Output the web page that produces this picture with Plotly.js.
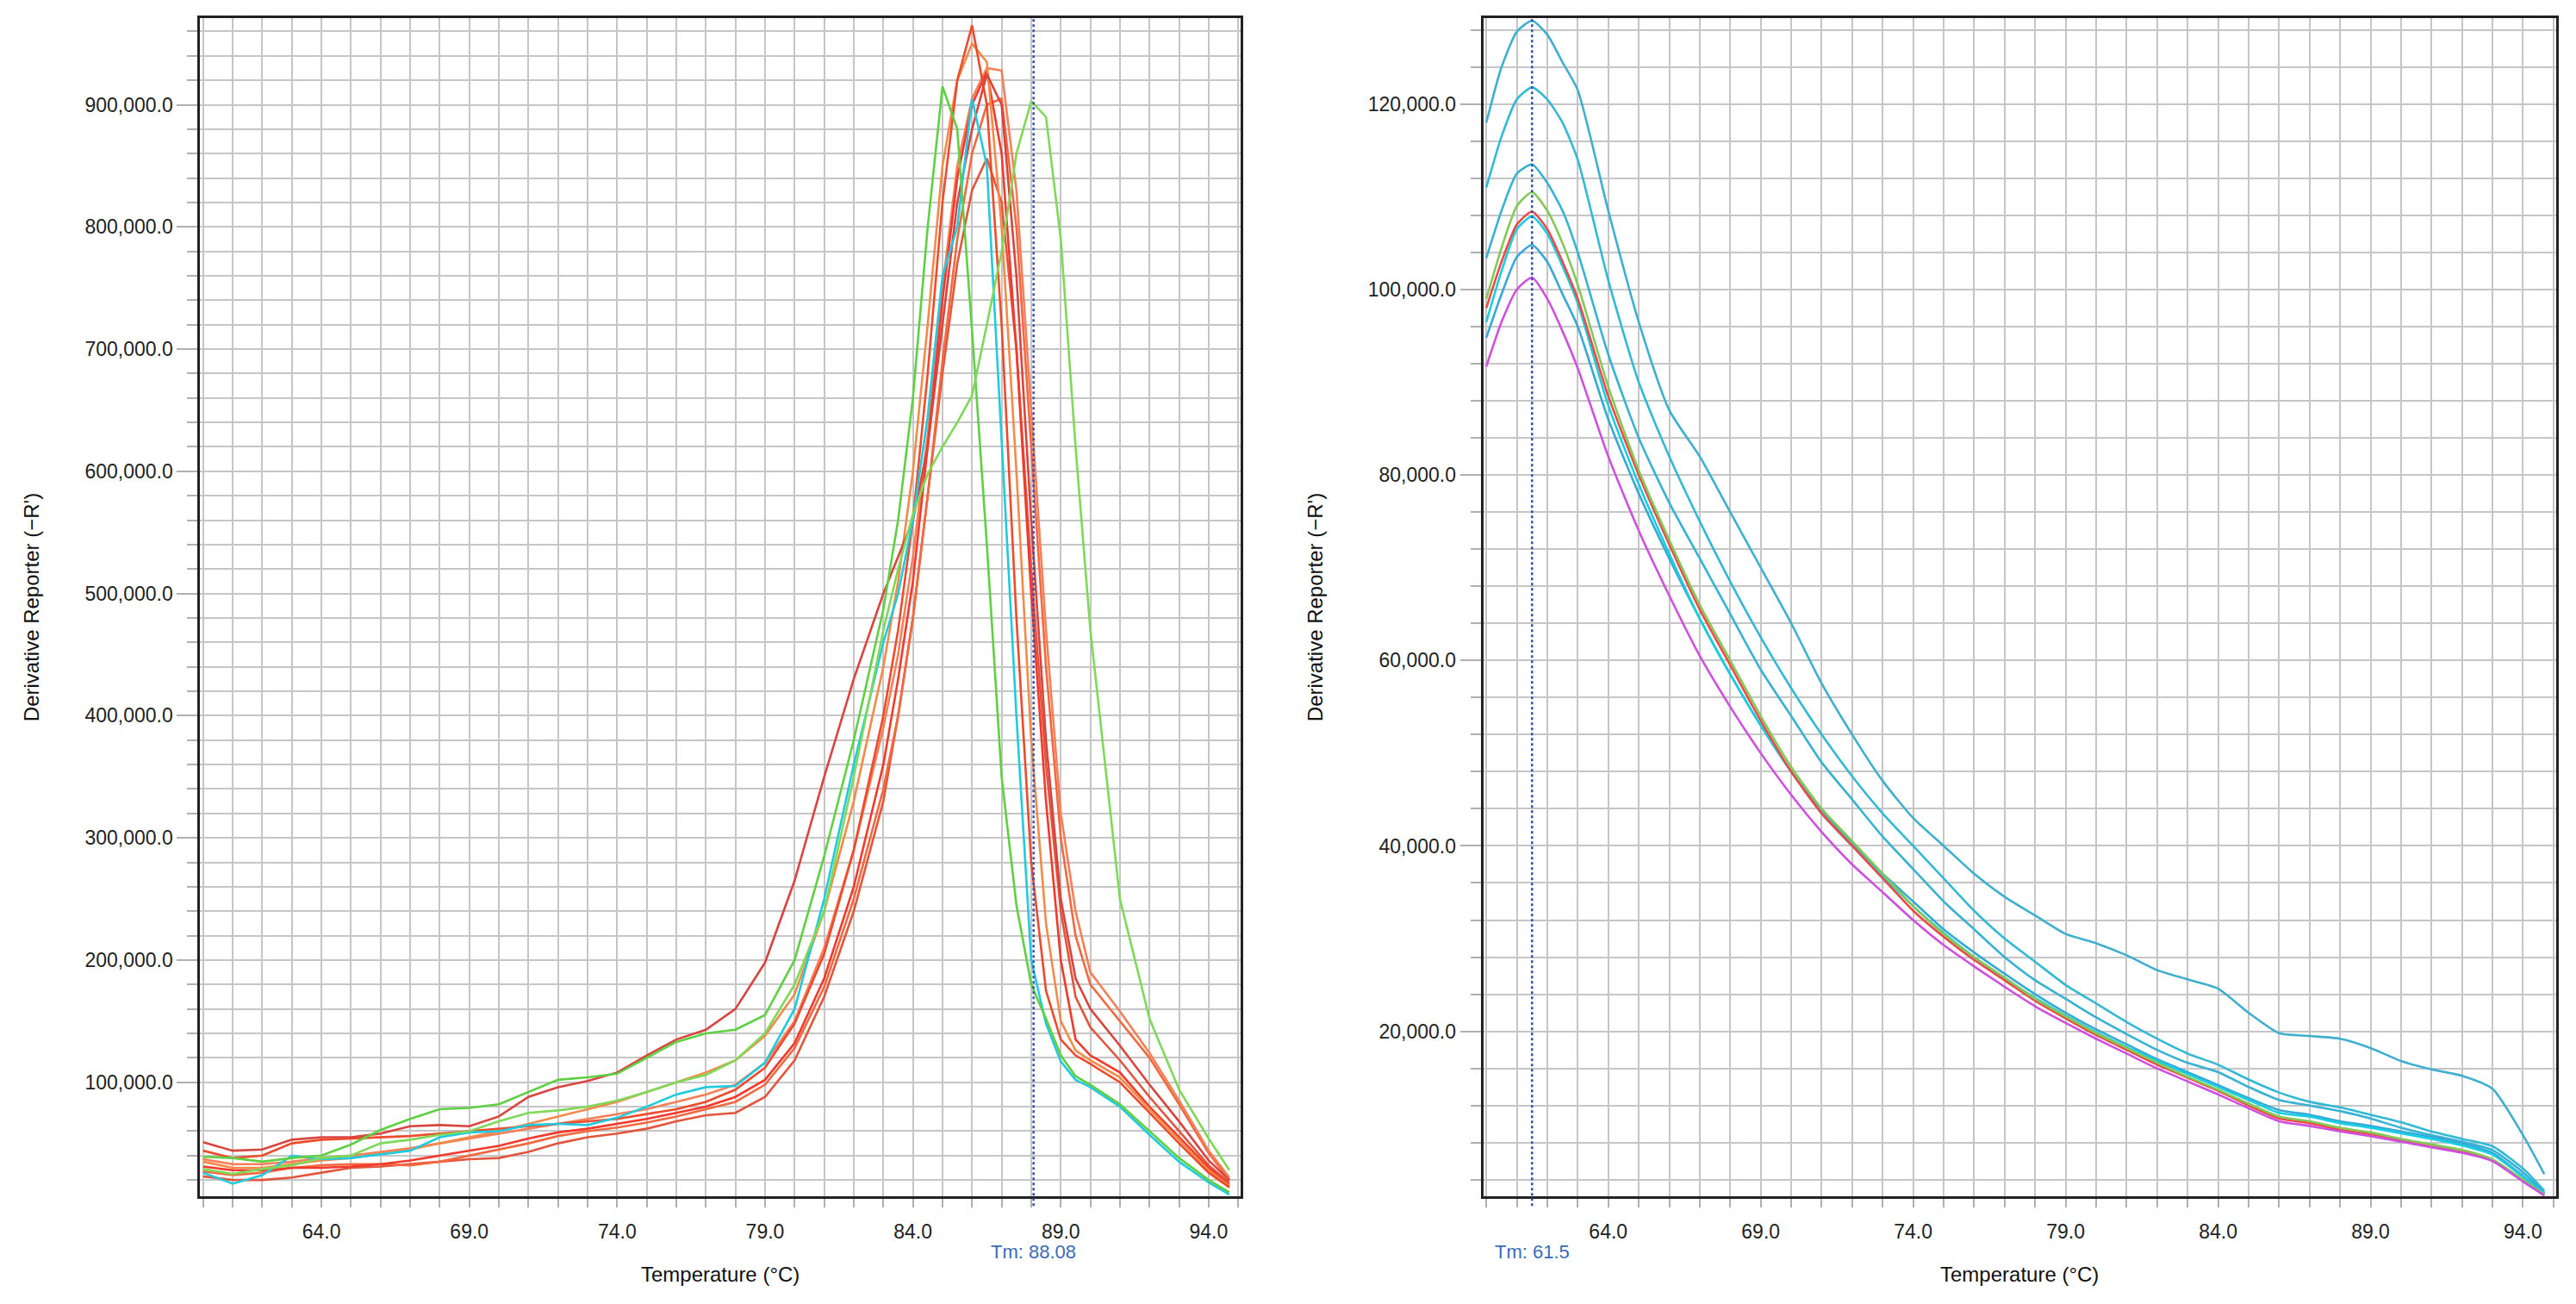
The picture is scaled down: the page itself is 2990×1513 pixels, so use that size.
<!DOCTYPE html>
<html>
<head>
<meta charset="utf-8">
<script src="https://cdn.plot.ly/plotly-3.0.1.min.js"></script>
<style>
  body { margin: 0; background: #fff; }
  #chart { width: 2990px; height: 1513px; }
</style>
</head>
<body>
<div id="chart"></div>
<script>
// values in thousands of -R' units
const kilo = 1000;

// left panel: temperature points (°C)
const tempLeft = [60, 61, 62, 63, 64, 65, 66, 67, 68, 69, 70, 71, 72, 73, 74, 75, 76, 77, 78, 79, 80, 81, 82, 83, 83.5, 84, 84.5, 85, 85.5, 86, 86.5, 87, 87.5, 88, 88.5, 89, 89.5, 90, 91, 92, 93, 94, 94.7];

const leftRed1 = [44, 38, 40, 50, 53, 54, 55, 56, 58, 60, 62, 64, 66, 68, 70, 74, 78, 84, 94, 112, 148, 205, 290, 400, 470, 560, 680, 820, 920, 965, 900, 720, 480, 280, 175, 135, 122, 115, 100, 75, 50, 26, 14];
const leftOrange1 = [35, 30, 30, 33, 36, 38, 42, 45, 50, 55, 60, 66, 72, 78, 84, 92, 100, 108, 118, 138, 172, 240, 330, 440, 510, 600, 720, 850, 920, 950, 935, 800, 600, 380, 230, 150, 126, 118, 104, 78, 53, 28, 15];
const leftRed2 = [51, 44, 45, 53, 55, 55, 58, 64, 65, 64, 72, 88, 96, 101, 108, 122, 135, 143, 160, 198, 265, 350, 430, 500, 530, 560, 620, 720, 820, 880, 925, 900, 760, 560, 380, 250, 185, 160, 130, 98, 68, 36, 20];
const leftRed3 = [31, 28, 28, 30, 30, 31, 33, 36, 40, 44, 48, 54, 59, 62, 66, 70, 75, 80, 88, 102, 132, 185, 260, 360, 430, 510, 620, 740, 840, 900, 927, 860, 700, 500, 330, 200, 135, 122, 108, 80, 55, 30, 16];
const leftRed4 = [23, 20, 20, 22, 26, 30, 31, 33, 35, 37, 38, 43, 50, 55, 58, 62, 68, 73, 75, 88, 118, 170, 240, 330, 400, 480, 580, 680, 770, 830, 856, 820, 700, 520, 360, 240, 170, 145, 118, 88, 60, 32, 18];
const leftRed5 = [27, 24, 26, 30, 32, 33, 33, 32, 35, 40, 45, 50, 56, 60, 63, 67, 72, 78, 84, 98, 128, 178, 250, 340, 400, 480, 580, 690, 790, 860, 900, 905, 800, 620, 440, 300, 220, 180, 150, 120, 82, 42, 20];
const leftOrange2 = [37, 33, 33, 35, 38, 40, 43, 46, 50, 54, 58, 62, 66, 70, 74, 78, 84, 90, 98, 116, 150, 210, 290, 390, 450, 530, 630, 750, 850, 905, 930, 928, 830, 650, 470, 320, 240, 190, 158, 124, 85, 44, 22];
const leftCyan = [26, 17, 24, 40, 37, 38, 41, 44, 55, 59, 60, 65, 66, 65, 71, 80, 90, 96, 97, 116, 160, 250, 360, 460, 500, 560, 645, 760, 800, 905, 850, 620, 400, 200, 148, 117, 102, 96, 80, 57, 35, 18, 8];
const leftGreen1 = [39, 38, 35, 38, 40, 49, 61, 70, 78, 79, 82, 92, 102, 104, 107, 120, 133, 140, 143, 155, 200, 285, 380, 487, 560, 660, 800, 915, 880, 715, 540, 350, 245, 180, 152, 122, 105, 98, 82, 60, 38, 20, 10];
const leftGreen2 = [29, 25, 29, 32, 38, 40, 50, 53, 57, 60, 68, 75, 77, 80, 85, 92, 100, 106, 118, 140, 180, 240, 350, 470, 520, 565, 598, 620, 640, 662, 720, 780, 860, 903, 890, 790, 620, 470, 250, 152, 94, 54, 28];

// right panel: temperature points (°C)
const tempRight = [60, 60.5, 61, 61.5, 62, 62.5, 63, 64, 65, 66, 67, 68, 69, 70, 71, 72, 73, 74, 75, 76, 77, 78, 79, 80, 81, 82, 83, 84, 85, 86, 87, 88, 89, 90, 91, 92, 93, 94, 94.7];

const rightTeal1 = [118, 124, 127.8, 129, 127.5, 124.5, 121.5, 108.5, 96.5, 87, 82, 76, 70, 64, 57.5, 52, 47, 43, 40, 37, 34.5, 32.5, 30.5, 29.5, 28.2, 26.6, 25.6, 24.6, 22, 19.8, 19.5, 19.2, 18.2, 16.8, 15.9, 15.2, 13.8, 8.8, 4.6];
const rightTeal2 = [111, 116.5, 120.5, 121.8, 120.5, 118, 114, 101, 90, 82, 75, 68.5, 62.5, 57, 52, 47.5, 43.5, 40, 36.5, 33, 30, 27.5, 25, 23, 21, 19.2, 17.6, 16.4, 14.8, 13.4, 12.4, 11.8, 11, 10.2, 9.2, 8.4, 7.6, 5.2, 2.8];
const rightTeal3 = [103.4, 108.5, 112.5, 113.5, 111.5, 108.5, 104, 93, 84, 77, 71, 65, 59, 54, 49, 45, 41, 37.5, 34, 31, 28, 25.5, 23.5, 21.5, 19.7, 18, 16.6, 15.6, 14, 12.6, 12, 11.4, 10.6, 9.6, 8.8, 8.1, 7.2, 4.8, 2.6];
const rightBlue = [94.8, 99.5, 103.5, 104.8, 103, 99.5, 96, 86, 78, 71, 64.5, 58.5, 53, 48, 43.8, 40.2, 37, 34, 31, 28.5, 26.2, 24, 22, 20.2, 18.6, 17, 15.6, 14.2, 12.8, 11.5, 11, 10.3, 9.8, 9.2, 8.6, 7.9, 6.9, 4.4, 2.5];
const rightCyan = [96.5, 102, 106.5, 107.9, 106, 102.5, 98.5, 87.5, 79, 71.5, 64.5, 58.5, 53, 48, 43.5, 40, 36.7, 33.5, 30.6, 28, 25.7, 23.6, 21.7, 19.9, 18.3, 16.8, 15.4, 14, 12.6, 11.2, 10.8, 10.1, 9.6, 9, 8.4, 7.7, 6.7, 4.3, 2.5];
const rightRed = [98, 103, 107, 108.4, 106.5, 103, 99, 88.5, 80, 72.5, 65.5, 59.5, 53.5, 48, 43.5, 40, 36.5, 33, 30.2, 27.7, 25.5, 23.3, 21.4, 19.6, 18, 16.4, 15, 13.6, 12, 10.6, 10.1, 9.4, 8.9, 8.3, 7.7, 7.1, 6.1, 3.9, 2.3];
const rightGreen = [99, 104.5, 109, 110.5, 108.5, 105, 100.5, 89.5, 80.5, 73, 66, 60, 54, 48.5, 44, 40.5, 37, 33.5, 30.5, 28, 25.8, 23.5, 21.6, 19.8, 18.2, 16.6, 15.1, 13.7, 12.2, 10.8, 10.3, 9.6, 9.1, 8.4, 7.8, 7.2, 6.2, 4, 2.4];
const rightMagenta = [91.7, 96.5, 100, 101.3, 99, 95.5, 91.5, 82, 74, 67, 60.5, 55, 50, 45.5, 41.5, 38, 35, 32, 29.3, 27, 24.8, 22.7, 20.9, 19.2, 17.6, 16, 14.6, 13.2, 11.7, 10.3, 9.8, 9.2, 8.7, 8.1, 7.5, 6.9, 6, 3.8, 2.3];

const tmLeft = 88.08;
const tmRight = 61.5;

function curve(temps, vals, color, xa, ya, shape) {
  return {
    type: "scatter",
    mode: "lines",
    x: temps,
    y: vals.map((v) => v * kilo),
    xaxis: xa,
    yaxis: ya,
    line: { color: color, width: 2.6, shape: shape, smoothing: 0.6 },
    hoverinfo: "skip",
  };
}

let data = [
  curve(tempLeft, leftRed4, "#e3553d", "x", "y", "linear"),
  curve(tempLeft, leftRed5, "#f2683f", "x", "y", "linear"),
  curve(tempLeft, leftOrange2, "#f47f58", "x", "y", "linear"),
  curve(tempLeft, leftRed3, "#f2392c", "x", "y", "linear"),
  curve(tempLeft, leftOrange1, "#f58a48", "x", "y", "linear"),
  curve(tempLeft, leftRed1, "#ee4a2c", "x", "y", "linear"),
  curve(tempLeft, leftRed2, "#d9443f", "x", "y", "linear"),
  curve(tempLeft, leftCyan, "#22cae0", "x", "y", "linear"),
  curve(tempLeft, leftGreen1, "#5ed042", "x", "y", "linear"),
  curve(tempLeft, leftGreen2, "#7fd958", "x", "y", "linear"),

  curve(tempRight, rightTeal1, "#3eafcf", "x2", "y2", "spline"),
  curve(tempRight, rightTeal2, "#33b9d6", "x2", "y2", "spline"),
  curve(tempRight, rightTeal3, "#38b2d2", "x2", "y2", "spline"),
  curve(tempRight, rightBlue, "#36a9d8", "x2", "y2", "spline"),
  curve(tempRight, rightCyan, "#16d0e2", "x2", "y2", "spline"),
  curve(tempRight, rightRed, "#ef4848", "x2", "y2", "spline"),
  curve(tempRight, rightGreen, "#82c955", "x2", "y2", "spline"),
  curve(tempRight, rightMagenta, "#cf4fe0", "x2", "y2", "spline"),
];

const gridColor = "#c6c6c6";
const fontFamily = "Liberation Sans, Arial, sans-serif";

function tempAxis(domain, anchor) {
  return {
    domain: domain,
    anchor: anchor,
    range: [59.9, 95.08],
    tick0: 64,
    dtick: 5,
    tickformat: ".1f",
    ticks: "outside",
    ticklen: 10,
    tickwidth: 2,
    tickcolor: "#b0b0b0",
    ticklabelstandoff: 8,
    showgrid: true,
    gridcolor: gridColor,
    gridwidth: 2,
    zeroline: false,
    showline: true,
    linecolor: "#222",
    linewidth: 3,
    mirror: true,
    tickfont: { size: 23, color: "#222" },
    minor: {
      dtick: 1,
      ticks: "outside",
      ticklen: 10,
      tickwidth: 2,
      tickcolor: "#b0b0b0",
      showgrid: true,
      gridcolor: gridColor,
      gridwidth: 2,
    },
    title: { text: "Temperature (°C)", font: { size: 24, color: "#111" }, standoff: 30 },
  };
}

function valueAxis(domain, anchor, range, dtick, minorStep) {
  return {
    domain: domain,
    anchor: anchor,
    range: range,
    tick0: 0,
    dtick: dtick,
    tickformat: ",.1f",
    ticks: "outside",
    ticklen: 24,
    tickwidth: 2,
    tickcolor: "#b0b0b0",
    showgrid: true,
    gridcolor: gridColor,
    gridwidth: 2,
    zeroline: false,
    showline: true,
    linecolor: "#222",
    linewidth: 3,
    mirror: true,
    tickfont: { size: 23, color: "#222" },
    minor: {
      dtick: minorStep,
      ticks: "outside",
      ticklen: 12,
      tickwidth: 2,
      tickcolor: "#b0b0b0",
      showgrid: true,
      gridcolor: gridColor,
      gridwidth: 2,
    },
    title: { text: "Derivative Reporter (−R')", font: { size: 24, color: "#111" }, standoff: 46 },
  };
}

const yDomain = [0.0824, 0.9863];

var layout = {
  width: 2990,
  height: 1513,
  margin: { l: 0, r: 0, t: 0, b: 0 },
  paper_bgcolor: "#fff",
  plot_bgcolor: "#fff",
  showlegend: false,
  font: { family: fontFamily, size: 23, color: "#222" },
  xaxis: tempAxis([0.0777, 0.4816], "y"),
  yaxis: valueAxis(yDomain, "x", [6475, 971100], 100000, 20000),
  xaxis2: tempAxis([0.5758, 0.9922], "y2"),
  yaxis2: valueAxis(yDomain, "x2", [2180, 129300], 20000, 4000),
  shapes: [
    {
      type: "line", xref: "x", yref: "y domain",
      x0: tmLeft, x1: tmLeft, y0: -0.008, y1: 1,
      line: { color: "#3450b4", width: 2.5, dash: "dot" },
    },
    {
      type: "line", xref: "x2", yref: "y2 domain",
      x0: tmRight, x1: tmRight, y0: -0.008, y1: 1,
      line: { color: "#3450b4", width: 2.5, dash: "dot" },
    },
  ],
  annotations: [
    {
      text: "Tm: " + tmLeft.toFixed(2), xref: "x", yref: "paper",
      x: tmLeft, y: 0.0403, xanchor: "center", yanchor: "middle",
      showarrow: false, font: { size: 22, color: "#3a6cb8" },
    },
    {
      text: "Tm: " + tmRight, xref: "x2", yref: "paper",
      x: tmRight, y: 0.0403, xanchor: "center", yanchor: "middle",
      showarrow: false, font: { size: 22, color: "#3a6cb8" },
    },
  ],
};

Plotly.newPlot("chart", data, layout, { displayModeBar: false, staticPlot: true });
</script>
</body>
</html>
